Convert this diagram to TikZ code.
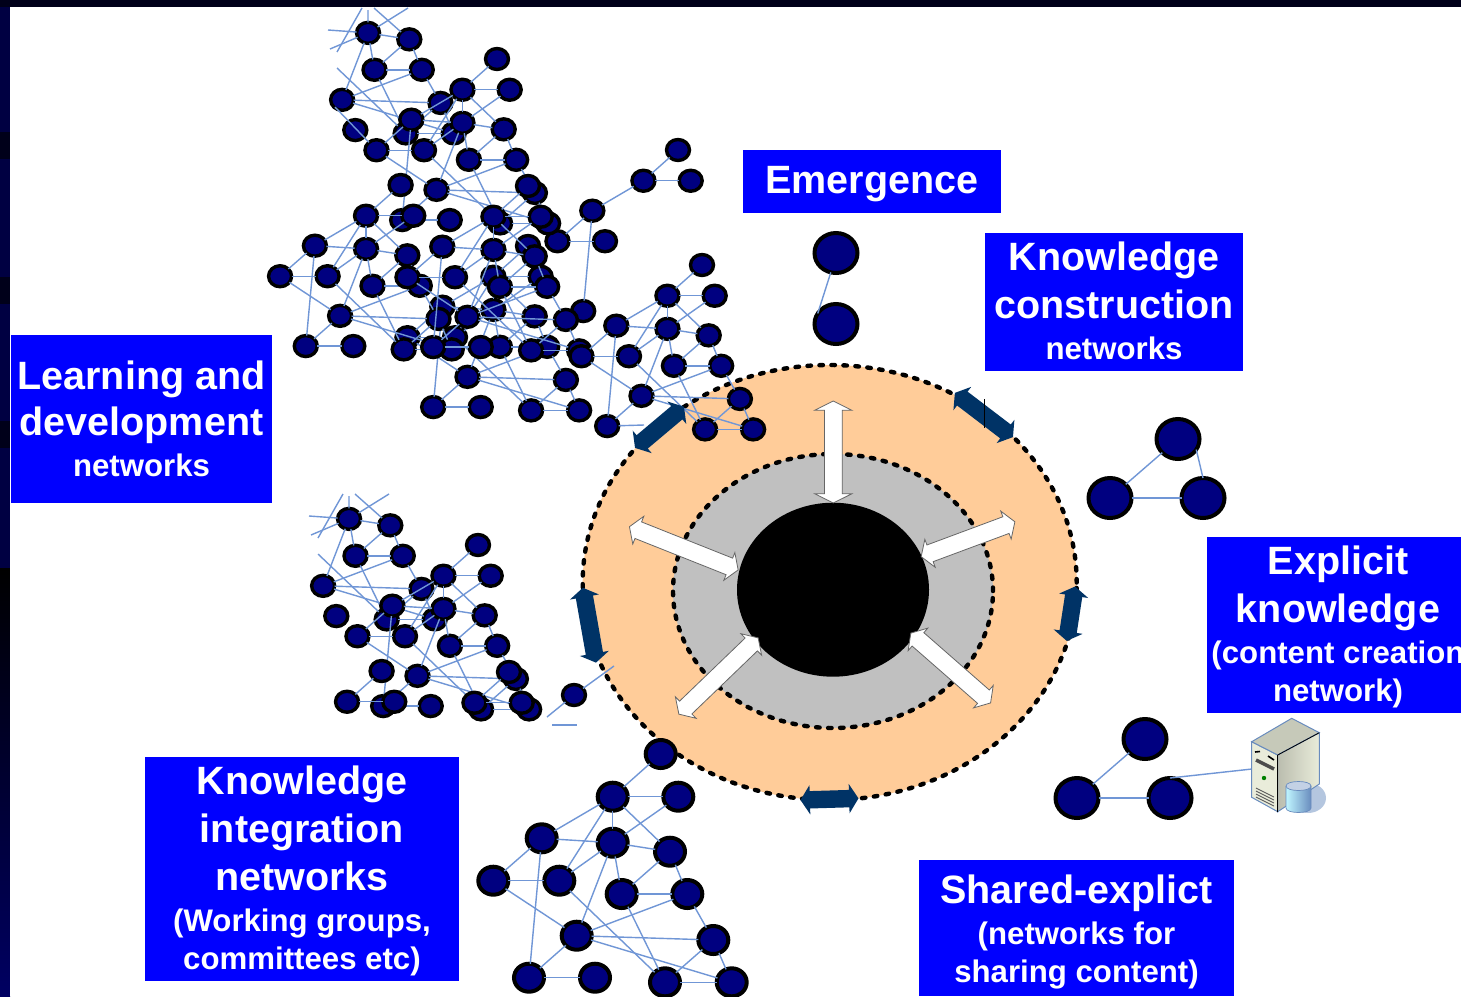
\documentclass[tikz,border=0pt]{standalone}
\usepackage{fontspec}
\setmainfont{Liberation Sans}
\usetikzlibrary{shapes.geometric,shapes.arrows}
\definecolor{capblue}{RGB}{0,0,255}
\definecolor{netblue}{RGB}{0,0,128}
\definecolor{linkblue}{RGB}{112,150,214}
\definecolor{navyarrow}{RGB}{0,51,102}
\definecolor{discorange}{RGB}{255,204,153}
\definecolor{discgray}{RGB}{192,192,192}
\definecolor{framenavy}{RGB}{0,0,66}
\definecolor{framedark}{RGB}{0,0,26}
\definecolor{framelow}{RGB}{0,0,98}
\definecolor{servercream}{RGB}{233,236,218}
\definecolor{serveredge}{RGB}{105,140,190}
\tikzset{netnode/.style={ellipse, draw=black, fill=netblue, line width=3.4, minimum width=23, minimum height=21, inner sep=0, outer sep=0},
	midnode/.style={netnode, line width=4, minimum width=30, minimum height=28},
	bignode/.style={netnode, line width=4, minimum width=43, minimum height=40},
	netlink/.style={draw=linkblue, line width=1.4},
	capbox/.style={fill=capblue, text=white, align=center, inner sep=0, font=\bfseries\fontsize{31.2}{38}\selectfont},
	ringline/.style={ellipse, draw=black, line width=4.4, line cap=round, dash pattern=on 3.5 off 8.5, inner sep=0},
	whitearrow/.style={double arrow, fill=white, draw=black!60, line width=.8, inner xsep=0, inner ysep=8.5, double arrow head extend=6, double arrow tip angle=115},
	navyhead/.style={double arrow, fill=navyarrow, inner xsep=0, inner ysep=8.5, double arrow head extend=6, double arrow tip angle=115}
}
\newcommand{\bigtxt}[1]{{\fontsize{39.5}{38}\selectfont #1}}
\def\allnodes{a,b,c,d,e,f,g,h,i,j,k,l,m,n,o,p}
\def\alllinks{a/b,b/c,b/d,b/e,b/f,b/h,c/e,d/e,d/g,d/m,e/f,e/h,e/i,e/k,f/i,f/j,g/h,g/k,h/o,i/j,i/o,j/k,j/l,k/l,k/m,k/p,l/o,l/p,m/n,o/p}
\def\cutnodes{e,f,i,j,k,l,n,o,p}
\def\cutlinks{e/f,e/i,e/k,f/i,f/j,i/j,i/o,j/k,j/l,k/l,k/p,l/o,l/p,o/p}
\newcommand{\netcopy}[7]{
	\foreach \n/\x/\y in {a/0/0,b/-48/42.7,c/17.6/42.7,d/-119/84.3,e/-48/88.7,f/9.3/97.7,g/-167.4/126.7,h/-101.4/126.7,i/-39/140,j/26.6/140,k/-84/181.7,l/52.6/186,m/-131.7/223.7,n/-65.7/223.7,o/4.3/228.3,p/71/228.3}{
		\coordinate (#1@\n) at ({#2+\x*#4},{#3+\y*#4});
	}
	\edef\nodelist{#6}
	\edef\linklist{#7}
	\foreach \n in \nodelist {\node[#5] (#1\n) at (#1@\n) {};}
	\foreach \s/\t in \linklist {\draw[netlink] (#1\s) -- (#1\t);}
}
\newcommand{\cutstubs}[3]{
	\foreach \n/\x/\y in {sa/328/30,sb/330/49,sc/368/10,sd/408/8,se/374/8,sf/337/68,sg/337/52,sh/362/8}{
		\coordinate (#1\n) at ({\x+#2},{\y+#3});
	}
	\foreach \s/\t in {sa/e,sb/e,sc/e,sd/e,se/f,sf/o,sg/sh}{\draw[netlink] (#1\s) -- (#1\t);}
}
\begin{document}
\begin{tikzpicture}[x=1pt,y=-1pt]
	\useasboundingbox (0,0) rectangle (1461,996);
	\fill[framenavy] (0,0) rectangle (10,996);
	\fill[framedark] (0,0) rectangle (1461,7);
	\foreach \y in {132,277,421}{\fill[framedark] (0,\y) rectangle (10,\y+27);}
	\shade[top color=black, bottom color=framelow] (0,568) rectangle (10,996);
	\fill[white] (10,7) rectangle (1461,996);

	\node[ringline, fill=discorange, minimum width=494, minimum height=435] (outerring) at (829.7,582.5) {};
	\node[ringline, fill=discgray, minimum width=320, minimum height=274] (innerring) at (833,591) {};
	\node[ellipse, fill=black, minimum width=192, minimum height=174, inner sep=0] (core) at (833,589.7) {};

	\netcopy{G}{678}{150}{.72}{netnode}{a,b,c,d,g,h,m}{a/b,b/c,b/d,d/g,d/m,g/h}
	\netcopy{A}{402.6}{-31}{.72}{netnode}{\cutnodes}{\cutlinks}
	\cutstubs{A}{0}{0}
	\netcopy{B}{497}{59}{.72}{netnode}{\allnodes}{\alllinks}
	\coordinate (stubnw) at (335,107);
	\draw[netlink] (stubnw) -- (Bg);
	\netcopy{E}{528}{246}{.72}{netnode}{\allnodes}{\alllinks}
	\netcopy{C}{400.6}{185}{.72}{netnode}{\allnodes}{\alllinks}
	\netcopy{D}{528}{186}{.72}{netnode}{\allnodes}{\alllinks}
	\netcopy{F}{702}{265}{.72}{netnode}{a,b,c,d,e,f,g,h,i,j,k,l,m,o,p}{a/b,b/c,b/d,b/e,b/f,b/h,c/e,d/e,d/g,d/m,e/f,e/h,e/i,e/k,f/i,f/j,g/h,g/k,h/o,i/j,i/o,j/k,j/l,k/l,k/m,k/p,l/o,l/p,o/p}
	\coordinate (stubn) at (644,425);
	\draw[netlink] (Fm) -- (stubn);

	\netcopy{P}{383.6}{455}{.72}{netnode}{\cutnodes}{\cutlinks}
	\cutstubs{P}{-19}{486}
	\netcopy{Q}{478}{545}{.72}{netnode}{\allnodes}{\alllinks}
	\netcopy{R}{381.6}{671}{.72}{netnode}{a,b,c}{a/b,b/c}
	\netcopy{S}{509}{672}{.72}{netnode}{a,b,c}{a/b,b/c}
	\node[netnode] (lonenode) at (574,695) {};
	\coordinate (lonesw) at (547,717);
	\coordinate (lonene) at (614,666);
	\coordinate (lonel) at (552,725);
	\coordinate (loner) at (577,725);
	\draw[netlink] (lonesw) -- (lonenode);
	\draw[netlink] (lonenode) -- (lonene);
	\draw[netlink] (lonel) -- (loner);

	\netcopy{H}{660.7}{754}{1}{midnode}{\allnodes}{\alllinks}

	\node[bignode] (emtop) at (836,253) {};
	\node[bignode] (embot) at (836,324) {};
	\draw[netlink] (emtop.255) -- (embot.150);

	\node[bignode] (tria) at (1178,439) {};
	\node[bignode] (trib) at (1110,498) {};
	\node[bignode] (tric) at (1203,498) {};
	\draw[netlink] (tria) -- (trib);
	\draw[netlink] (trib) -- (tric);
	\draw[netlink] (tria.-30) -- (tric.90);

	\node[bignode] (shara) at (1145,739) {};
	\node[bignode] (sharb) at (1077,798) {};
	\node[bignode] (sharc) at (1170,798) {};
	\coordinate (serverport) at (1252,769);
	\draw[netlink] (shara) -- (sharb);
	\draw[netlink] (sharb) -- (sharc);
	\draw[netlink] (sharc.north) -- (serverport);

	\fill[serveredge!50] (1308,798) ellipse [x radius=18, y radius=15];
	\filldraw[fill=servercream, draw=serveredge, line width=1] (1251.7,741.7) -- (1277.7,755) -- (1277.7,811.7) -- (1251.7,797.3) -- cycle;
	\filldraw[fill=servercream!85!black, draw=serveredge, line width=1] (1251.7,741.7) -- (1291.7,718.3) -- (1319.3,732.7) -- (1277.7,755) -- cycle;
	\shade[left color=servercream!80!black, right color=servercream, draw=serveredge, line width=1] (1277.7,755) -- (1319.3,732.7) -- (1319.3,784) -- (1277.7,811.7) -- cycle;
	\draw[black, line width=.8] (1277.7,755) -- (1319.3,732.7);
	\draw[black, line width=.8] (1277.7,755) -- (1277.7,811.7);
	\draw[black, line width=1.6] (1255,752) -- (1260,751.5);
	\draw[black, line width=1.6] (1268,756) -- (1274,760);
	\draw[black!70, line width=3.5] (1256,760) -- (1274,769);
	\fill[green!50!black] (1264,778) circle [radius=2.2];
	\foreach \y in {0,3,6,9}{\draw[black!65, line width=.9] (1256,{788+\y}) -- (1274,{797+\y});}
	\shade[left color=blue!15!cyan!25, middle color=white, right color=serveredge] (1286,786) -- (1286,808) .. controls (1286,814) and (1311,814) .. (1311,808) -- (1311,786) .. controls (1311,780) and (1286,780) .. (1286,786);
	\draw[serveredge, line width=.7] (1286,786) -- (1286,808) .. controls (1286,814) and (1311,814) .. (1311,808) -- (1311,786);
	\filldraw[fill=serveredge!40, draw=serveredge, line width=.7] (1286,786) .. controls (1286,780) and (1311,780) .. (1311,786) .. controls (1311,792) and (1286,792) .. (1286,786);

	\node[whitearrow, minimum height=102, rotate=90, double arrow head extend=9.5, double arrow tip angle=127] (arrowup) at (833.3,452) {};
	\node[whitearrow, minimum height=117, rotate=-21.7] (arrowleft) at (683.8,548.3) {};
	\node[whitearrow, minimum height=100, rotate=20.4] (arrowright) at (968,539.2) {};
	\node[whitearrow, minimum height=110, rotate=43.9] (arrowsw) at (718.5,676) {};
	\node[whitearrow, minimum height=106, rotate=-41.2] (arrowse) at (950.7,668) {};

	\node[navyhead, minimum height=64, rotate=40.1] (linknw) at (659.5,427.3) {};
	\node[navyhead, minimum height=73, rotate=-37.3] (linkne) at (983.9,415) {};
	\node[navyhead, minimum height=55, rotate=81.3] (linke) at (1070.9,613.7) {};
	\node[navyhead, minimum height=76, rotate=-80] (linkw) at (589.4,625.2) {};
	\node[navyhead, minimum height=58, rotate=1.7] (links) at (829.5,799.2) {};
	\coordinate (ticktop) at (984.3,399);
	\coordinate (tickbot) at (984.3,428);
	\draw[black, line width=.6] (ticktop) -- (tickbot);

	\path[fill=capblue] (11,335) rectangle (272,503);
	\node[capbox, align=center] (learnbox) at (141.5,419) {\bigtxt{Learning and}\\[8pt]\bigtxt{development}\\[3pt]networks};
	\path[fill=capblue] (743,150) rectangle (1001,213);
	\node[capbox] (emergebox) at (872,184.5) {\bigtxt{Emergence}};
	\path[fill=capblue] (985,233) rectangle (1243,371);
	\node[capbox] (constructbox) at (1114,301) {\bigtxt{Knowledge}\\[10pt]\bigtxt{construction}\\[3pt]networks};
	\path[fill=capblue] (1207,537) rectangle (1461,713);
	\node[capbox] (explicitbox) at (1338,627) {\bigtxt{Explicit}\\[10pt]\bigtxt{knowledge}\\[3pt](content creation\\network)};
	\path[fill=capblue] (919,860) rectangle (1234,996);
	\node[capbox] (sharedbox) at (1076.5,932) {\bigtxt{Shared-explict}\\[3pt](networks for\\sharing content)};
	\path[fill=capblue] (145,757) rectangle (459,981);
	\node[capbox] (integrationbox) at (302,870.5) {\bigtxt{Knowledge}\\[10pt]\bigtxt{integration}\\[10pt]\bigtxt{networks}\\[3pt](Working groups,\\committees etc)};
\end{tikzpicture}
\end{document}
